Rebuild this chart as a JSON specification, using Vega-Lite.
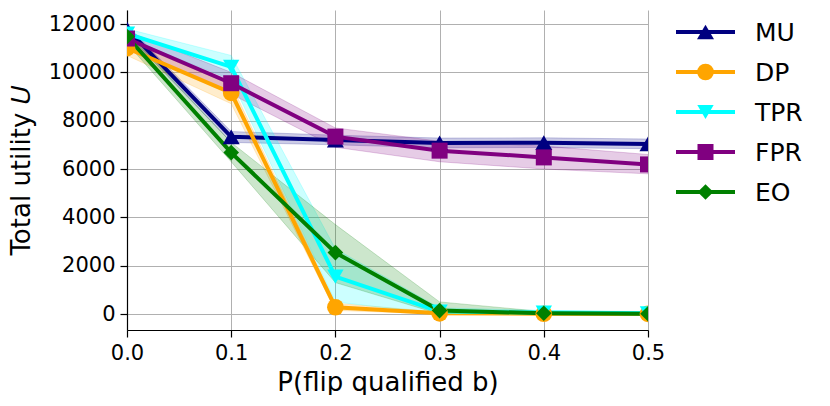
{
  "$schema": "https://vega.github.io/schema/vega-lite/v6.json",
  "padding": {"left": 8, "top": 10, "right": 0, "bottom": 0},
  "background": "white",
  "spacing": 9,
  "config": {
    "view": {"stroke": null},
    "font": "DejaVu Sans",
    "axis": {
      "domainColor": "black", "domainWidth": 1.2,
      "tickColor": "black", "tickSize": 7, "tickWidth": 1.2,
      "labelFont": "DejaVu Sans", "labelFontSize": 21, "labelColor": "black", "labelPadding": 5,
      "titleFont": "DejaVu Sans", "titleFontSize": 26, "titleFontWeight": "normal", "titleColor": "black",
      "gridColor": "#b0b0b0", "gridWidth": 1
    }
  },
  "hconcat": [
    {
      "width": 521,
      "height": 320,
      "data": {"values": [
        {"s": "MU", "p": 0.0, "v": 11800, "lo": 11600, "hi": 11950},
        {"s": "MU", "p": 0.1, "v": 7330, "lo": 7100, "hi": 7550},
        {"s": "MU", "p": 0.2, "v": 7200, "lo": 7000, "hi": 7400},
        {"s": "MU", "p": 0.3, "v": 7080, "lo": 6880, "hi": 7280},
        {"s": "MU", "p": 0.4, "v": 7090, "lo": 6890, "hi": 7290},
        {"s": "MU", "p": 0.5, "v": 7040, "lo": 6840, "hi": 7240},
        {"s": "DP", "p": 0.0, "v": 11000, "lo": 10700, "hi": 11300},
        {"s": "DP", "p": 0.1, "v": 9150, "lo": 8700, "hi": 9500},
        {"s": "DP", "p": 0.2, "v": 280, "lo": 150, "hi": 450},
        {"s": "DP", "p": 0.3, "v": 30, "lo": 0, "hi": 80},
        {"s": "DP", "p": 0.4, "v": 10, "lo": 0, "hi": 20},
        {"s": "DP", "p": 0.5, "v": 5, "lo": 0, "hi": 15},
        {"s": "TPR", "p": 0.0, "v": 11600, "lo": 11400, "hi": 11800},
        {"s": "TPR", "p": 0.1, "v": 10230, "lo": 9700, "hi": 10700},
        {"s": "TPR", "p": 0.2, "v": 1550, "lo": 500, "hi": 2700},
        {"s": "TPR", "p": 0.3, "v": 100, "lo": 0, "hi": 250},
        {"s": "TPR", "p": 0.4, "v": 60, "lo": 0, "hi": 150},
        {"s": "TPR", "p": 0.5, "v": 30, "lo": 0, "hi": 100},
        {"s": "FPR", "p": 0.0, "v": 11400, "lo": 11100, "hi": 11700},
        {"s": "FPR", "p": 0.1, "v": 9550, "lo": 9100, "hi": 10000},
        {"s": "FPR", "p": 0.2, "v": 7340, "lo": 6900, "hi": 7700},
        {"s": "FPR", "p": 0.3, "v": 6760, "lo": 6300, "hi": 7150},
        {"s": "FPR", "p": 0.4, "v": 6480, "lo": 6000, "hi": 6950},
        {"s": "FPR", "p": 0.5, "v": 6190, "lo": 5800, "hi": 6600},
        {"s": "EO", "p": 0.0, "v": 11480, "lo": 11200, "hi": 11700},
        {"s": "EO", "p": 0.1, "v": 6680, "lo": 6300, "hi": 7100},
        {"s": "EO", "p": 0.2, "v": 2540, "lo": 1300, "hi": 3700},
        {"s": "EO", "p": 0.3, "v": 140, "lo": 0, "hi": 500},
        {"s": "EO", "p": 0.4, "v": 30, "lo": 0, "hi": 100},
        {"s": "EO", "p": 0.5, "v": 10, "lo": 0, "hi": 50}
      ]},
      "encoding": {
        "x": {
          "field": "p", "type": "quantitative",
          "scale": {"domain": [0, 0.5], "nice": false, "zero": false},
          "axis": {"values": [0, 0.1, 0.2, 0.3, 0.4, 0.5], "format": ".1f", "labelFlush": false, "title": "P(flip qualified b)", "titlePadding": 6}
        },
        "color": {
          "field": "s", "type": "nominal", "legend": null,
          "scale": {"domain": ["MU", "DP", "TPR", "FPR", "EO"], "range": ["#000080", "#FFA500", "#00FFFF", "#800080", "#008000"]}
        }
      },
      "layer": [
        {
          "mark": {"type": "area", "clip": true, "fillOpacity": 0.2, "strokeOpacity": 0.2, "strokeWidth": 1},
          "encoding": {
            "y": {"field": "lo", "type": "quantitative"},
            "y2": {"field": "hi"},
            "stroke": {"field": "s", "type": "nominal", "scale": {"domain": ["MU", "DP", "TPR", "FPR", "EO"], "range": ["#000080", "#FFA500", "#00FFFF", "#800080", "#008000"]}, "legend": null}
          }
        },
        {
          "mark": {"type": "line", "clip": true, "strokeWidth": 4},
          "encoding": {
            "y": {
              "field": "v", "type": "quantitative",
              "scale": {"domain": [-662, 12580], "nice": false, "zero": false},
              "axis": {"values": [0, 2000, 4000, 6000, 8000, 10000, 12000], "format": "d", "title": "Total utility 𝑈", "titlePadding": 14}
            }
          }
        },
        {
          "mark": {"type": "point", "clip": true, "filled": true, "opacity": 1},
          "encoding": {
            "y": {"field": "v", "type": "quantitative"},
            "shape": {"field": "s", "type": "nominal", "scale": {"domain": ["MU", "DP", "TPR", "FPR", "EO"], "range": ["triangle-up", "circle", "triangle-down", "square", "diamond"]}, "legend": null},
            "size": {"field": "s", "type": "nominal", "scale": {"domain": ["MU", "DP", "TPR", "FPR", "EO"], "range": [290, 245, 290, 280, 620]}, "legend": null}
          }
        }
      ]
    },
    {
      "width": 140,
      "height": 204,
      "data": {"values": [{"s": "MU"}, {"s": "DP"}, {"s": "TPR"}, {"s": "FPR"}, {"s": "EO"}]},
      "encoding": {
        "y": {"field": "s", "type": "nominal", "sort": null, "axis": null, "scale": {"type": "point", "domain": ["MU", "DP", "TPR", "FPR", "EO"], "padding": 0.55}},
        "color": {
          "field": "s", "type": "nominal", "legend": null,
          "scale": {"domain": ["MU", "DP", "TPR", "FPR", "EO"], "range": ["#000080", "#FFA500", "#00FFFF", "#800080", "#008000"]}
        }
      },
      "layer": [
        {
          "mark": {"type": "rule", "strokeWidth": 4},
          "encoding": {
            "x": {"datum": 0, "type": "quantitative", "scale": {"domain": [0, 140], "nice": false, "zero": false}, "axis": null},
            "x2": {"datum": 59}
          }
        },
        {
          "mark": {"type": "point", "filled": true, "opacity": 1},
          "encoding": {
            "x": {"datum": 29.5, "type": "quantitative"},
            "shape": {"field": "s", "type": "nominal", "scale": {"domain": ["MU", "DP", "TPR", "FPR", "EO"], "range": ["triangle-up", "circle", "triangle-down", "square", "diamond"]}, "legend": null},
            "size": {"field": "s", "type": "nominal", "scale": {"domain": ["MU", "DP", "TPR", "FPR", "EO"], "range": [290, 245, 290, 280, 620]}, "legend": null}
          }
        },
        {
          "mark": {"type": "text", "align": "left", "baseline": "middle", "fontSize": 25, "font": "DejaVu Sans", "dy": 1},
          "encoding": {
            "x": {"datum": 79, "type": "quantitative"},
            "text": {"field": "s"},
            "color": {"value": "black"}
          }
        }
      ]
    }
  ]
}
